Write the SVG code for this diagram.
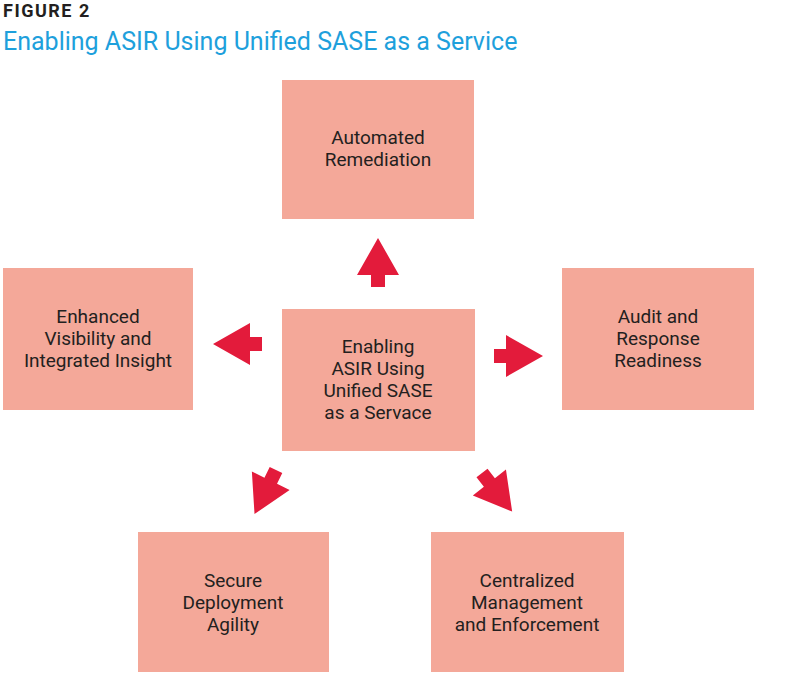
<svg xmlns="http://www.w3.org/2000/svg" width="800" height="675" viewBox="0 0 800 675">
<style>
.box{fill:#f4a899}
.t{font-family:Roboto,"Liberation Sans",sans-serif;font-size:19px;fill:#231f20;text-anchor:middle}
.ar{fill:#e31b3b}
</style>
<defs><path id="arr" d="M0,-7 H12 V-21 L49,0 L12,21 V7 H0 Z"/></defs>
<rect width="800" height="675" fill="#fff"/>
<text x="3" y="17" font-family="Roboto,'Liberation Sans',sans-serif" font-weight="bold" font-size="18" letter-spacing="1.5" fill="#231f20">FIGURE 2</text>
<text x="3" y="50" font-family="Roboto,'Liberation Sans',sans-serif" font-size="25" fill="#1ea0dc">Enabling ASIR Using Unified SASE as a Service</text>
<g id="top"><rect class="box" x="282" y="80" width="192" height="139"/><text class="t"><tspan x="378" y="144">Automated</tspan><tspan x="378" y="166">Remediation</tspan></text></g>
<g id="left"><rect class="box" x="3" y="268" width="190" height="142"/><text class="t"><tspan x="98" y="323">Enhanced</tspan><tspan x="98" y="345">Visibility and</tspan><tspan x="98" y="367">Integrated Insight</tspan></text></g>
<g id="center"><rect class="box" x="282" y="309" width="193" height="142"/><text class="t"><tspan x="378" y="353">Enabling</tspan><tspan x="378" y="375">ASIR Using</tspan><tspan x="378" y="397">Unified SASE</tspan><tspan x="378" y="419">as a Servace</tspan></text></g>
<g id="right"><rect class="box" x="562" y="268" width="192" height="142"/><text class="t"><tspan x="658" y="323">Audit and</tspan><tspan x="658" y="345">Response</tspan><tspan x="658" y="367">Readiness</tspan></text></g>
<g id="bl"><rect class="box" x="138" y="532" width="191" height="140"/><text class="t"><tspan x="233" y="587">Secure</tspan><tspan x="233" y="609">Deployment</tspan><tspan x="233" y="631">Agility</tspan></text></g>
<g id="br"><rect class="box" x="431" y="532" width="193" height="140"/><text class="t"><tspan x="527" y="587">Centralized</tspan><tspan x="527" y="609">Management</tspan><tspan x="527" y="631">and Enforcement</tspan></text></g>
<g id="connectors" class="ar">
<use href="#arr" transform="translate(378,287) rotate(-90)"/>
<use href="#arr" transform="translate(262,344) rotate(180)"/>
<use href="#arr" transform="translate(494,356)"/>
<use href="#arr" transform="translate(276,470) rotate(116)"/>
<use href="#arr" transform="translate(482,473) rotate(52)"/>
</g>
</svg>
